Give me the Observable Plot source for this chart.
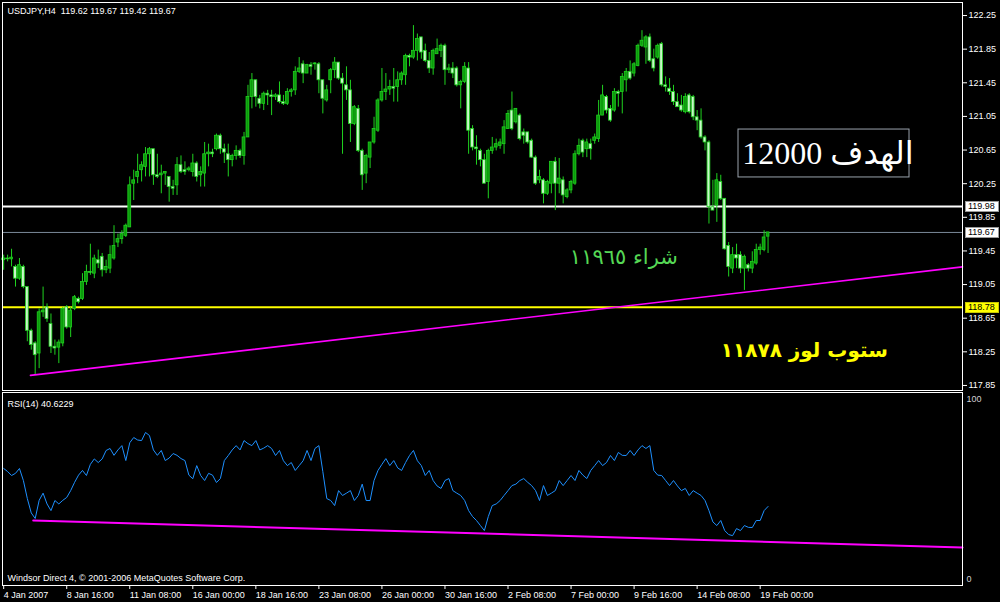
<!DOCTYPE html>
<html><head><meta charset="utf-8">
<script src="https://cdn.jsdelivr.net/npm/d3@7"></script>
<script src="https://cdn.jsdelivr.net/npm/@observablehq/plot@0.6"></script>
<style>
html,body{margin:0;padding:0;background:#000;}
#chart{width:1000px;height:602px;background:#000;overflow:hidden;}
#chart svg{display:block;}
</style></head><body><div id="chart"></div>
<script>
// ---- data (USDJPY H4, bar index 0 = 4 Jan 2007 00:00) ----
const opens = [
119.34,119.36,119.35,119.26,119.12,119.26,119.02,118.50,118.35,118.23,
118.72,118.78,118.58,118.31,118.30,118.35,118.78,118.54,118.76,118.88,
118.88,119.08,119.20,119.18,119.34,119.38,119.22,119.24,119.36,119.55,
119.59,119.63,119.73,120.25,120.33,120.41,120.45,120.60,120.66,120.35,
120.35,120.37,120.33,120.21,120.23,120.47,120.41,120.41,120.39,120.49,
120.35,120.37,120.60,120.62,120.66,120.82,120.66,120.60,120.53,120.58,
120.64,120.58,120.80,121.28,121.48,121.26,121.20,121.32,121.30,121.28,
121.30,121.22,121.20,121.34,121.36,121.58,121.67,121.56,121.66,121.67,
121.67,121.48,121.24,121.48,121.60,121.69,121.50,121.42,121.36,120.96,
121.14,120.64,120.37,120.56,120.74,120.88,121.24,121.34,121.37,121.40,
121.40,121.48,121.54,121.77,121.75,121.83,121.99,121.83,121.71,121.62,
121.79,121.83,121.89,121.60,121.62,121.62,121.42,121.46,121.62,120.90,
120.68,120.64,120.53,120.27,120.64,120.68,120.70,120.72,120.90,121.12,
120.98,121.06,120.86,120.86,120.76,120.56,120.29,120.29,120.13,120.25,
120.51,120.25,120.29,120.09,120.17,120.25,120.60,120.76,120.66,120.72,
120.76,120.78,121.06,121.28,121.14,121.12,121.34,121.34,121.48,121.58,
121.56,121.65,121.89,121.87,121.99,121.73,121.75,121.91,121.42,121.38,
121.34,121.22,121.18,121.10,121.30,121.28,121.04,121.00,120.80,120.74,
119.97,119.99,120.27,120.07,119.51,119.24,119.40,119.40,119.24,119.28,
119.24,119.30,119.46,119.46,119.62];
const highs = [
119.40,119.40,119.47,119.28,119.36,119.28,119.02,118.52,118.37,118.76,
119.02,118.82,118.70,118.39,118.39,118.78,118.80,118.78,118.92,118.90,
119.18,119.28,119.53,119.40,119.46,119.42,119.34,119.51,119.75,119.65,
119.69,119.77,120.33,120.41,120.60,120.51,120.68,120.68,120.66,120.60,
120.47,120.39,120.33,120.29,120.56,120.58,120.51,120.45,120.60,120.51,
120.45,120.74,120.72,120.66,120.84,120.84,120.72,120.72,120.60,120.70,
120.66,120.86,121.42,121.56,121.48,121.30,121.34,121.36,121.36,121.32,
121.46,121.30,121.38,121.38,121.64,121.75,121.71,121.67,121.69,121.69,
121.69,121.48,121.42,121.62,121.75,121.69,121.56,121.64,121.48,121.18,
121.18,120.66,120.60,120.74,121.04,121.26,121.62,121.56,121.48,121.62,
121.58,121.58,121.79,121.79,122.13,122.03,121.99,121.91,121.81,121.85,
121.97,121.91,121.91,121.67,121.69,121.64,121.48,121.69,121.69,120.94,
120.82,120.66,120.60,120.66,120.80,120.78,120.78,121.00,121.12,121.34,
121.14,121.08,120.90,120.86,120.78,120.58,120.41,120.31,120.29,120.51,
120.56,120.55,120.33,120.19,120.29,120.64,120.78,120.78,120.78,120.78,
120.84,121.24,121.42,121.30,121.18,121.38,121.36,121.56,121.62,121.71,
121.69,121.91,122.07,122.01,122.03,121.85,121.91,121.93,121.52,121.50,
121.42,121.32,121.30,121.32,121.32,121.30,121.12,121.14,120.82,120.76,
120.29,120.37,120.35,120.07,119.55,119.49,119.53,119.44,119.40,119.30,
119.44,119.53,119.53,119.69,119.67];
const lows = [
119.22,119.32,119.26,119.02,119.10,119.00,118.37,118.27,117.98,118.05,
118.66,118.60,118.23,118.21,118.11,118.31,118.52,118.42,118.74,118.82,
118.86,119.04,119.16,119.12,119.24,119.14,119.18,119.18,119.34,119.49,
119.53,119.61,119.73,120.05,120.25,120.27,120.33,120.33,120.23,120.31,
120.13,120.23,120.03,120.11,120.11,120.37,120.35,120.39,120.33,120.27,
120.21,120.21,120.45,120.56,120.64,120.60,120.49,120.33,120.45,120.53,
120.55,120.47,120.80,121.14,121.16,121.14,121.12,121.18,121.06,121.24,
121.20,121.18,121.18,121.28,121.30,121.56,121.44,121.56,121.54,121.60,
121.32,121.08,121.22,121.32,121.50,121.48,120.60,121.24,120.74,120.94,
120.62,120.17,120.25,120.43,120.72,120.86,121.22,121.24,121.30,121.22,
121.22,121.42,121.42,121.64,121.73,121.71,121.73,121.69,121.56,121.54,
121.79,121.75,121.42,121.56,121.50,121.40,121.14,121.44,120.60,120.64,
120.47,120.45,120.25,120.07,120.60,120.64,120.66,120.60,120.90,120.88,
120.96,120.76,120.72,120.72,120.55,120.23,120.25,120.01,120.11,120.13,
119.93,120.13,120.01,120.07,120.13,120.23,120.58,120.56,120.56,120.53,
120.72,120.74,121.06,121.08,120.98,121.10,121.16,121.08,121.34,121.48,
121.52,121.64,121.87,121.67,121.69,121.58,121.73,121.40,121.34,121.30,
121.18,121.16,121.10,121.08,121.08,121.00,120.88,120.78,120.64,119.77,
119.93,119.79,120.05,119.46,119.14,119.18,119.24,119.18,118.98,119.20,
119.18,119.28,119.40,119.44,119.42];
const closes = [
119.36,119.35,119.37,119.12,119.28,119.02,118.50,118.33,118.21,118.72,
118.74,118.64,118.31,118.29,118.36,118.76,118.54,118.74,118.90,118.84,
119.08,119.20,119.19,119.36,119.30,119.22,119.26,119.40,119.51,119.59,
119.65,119.75,120.23,120.29,120.39,120.47,120.60,120.66,120.35,120.33,
120.37,120.39,120.21,120.19,120.47,120.39,120.39,120.43,120.49,120.33,
120.39,120.60,120.62,120.60,120.82,120.66,120.62,120.53,120.58,120.64,
120.58,120.80,121.28,121.48,121.28,121.20,121.32,121.30,121.28,121.30,
121.22,121.20,121.34,121.36,121.58,121.62,121.56,121.66,121.64,121.68,
121.48,121.26,121.36,121.60,121.69,121.50,121.44,121.36,120.96,121.16,
120.64,120.35,120.58,120.74,120.90,121.24,121.34,121.37,121.40,121.38,
121.48,121.56,121.77,121.75,121.83,121.97,121.81,121.71,121.62,121.83,
121.85,121.89,121.60,121.62,121.56,121.42,121.46,121.64,120.88,120.68,
120.66,120.53,120.25,120.64,120.68,120.72,120.74,120.92,121.08,120.90,
121.14,120.78,120.82,120.74,120.56,120.25,120.33,120.13,120.27,120.51,
120.25,120.31,120.11,120.17,120.27,120.60,120.70,120.62,120.74,120.66,
120.80,121.06,121.30,121.12,121.00,121.34,121.32,121.52,121.58,121.50,
121.67,121.89,121.95,121.99,121.71,121.62,121.89,121.42,121.40,121.34,
121.22,121.16,121.12,121.28,121.10,121.04,121.00,120.80,120.74,119.97,
119.93,120.29,120.07,119.47,119.26,119.40,119.36,119.24,119.38,119.24,
119.32,119.46,119.49,119.61,119.67];
const rsiValues = [
61.7,60,57.8,59,61.7,55,45,37,33.9,44,
48,42,38.3,43.9,42,44,45.6,49.4,54,58,
60.6,57.8,64,67,65,67,71.7,72.8,69,72,
74.4,66.1,76,78.9,77.5,77.2,81.7,80,72,69,
71.7,66.1,67.5,70,69,67.2,66.1,58,56,63.3,
57.8,55,59,58,53.9,56.1,66.1,68.9,72,74.4,
72,77.2,75.5,74.4,77.2,72,73,74.4,72.8,68.9,
71.7,66,63.3,65,60.6,63.3,66,71.7,66.1,72.8,
74.4,60,45,43.9,41.1,49.4,46.7,48,49.4,43.9,
46.7,53,43.9,43.9,55,60.6,64,67.2,63.3,66.1,
62,60.6,65,68.9,71.7,66,63.3,57.8,60.6,55,
52,50.6,55,56.1,49.4,48,46.7,43.9,38.3,35,
32.8,30,27.2,35,41.1,42,43.9,46.7,49.4,52.2,
53,55,56.1,54,52.2,49.4,43.9,52.2,46.7,48,
49.4,55,52.2,55,57.8,55,60.6,58,56.1,60.6,
63.3,66.1,63.3,65,68.9,66.1,70.6,69,68.9,71.7,
68.9,72,74.4,72.8,74.4,60.6,58,57.8,55,52.2,
55,52,49.4,50.6,46.7,49.4,48,46.7,43.9,38.3,
32,30,32.8,27.2,25,24.4,28.3,27.2,30,29,
28.9,32.8,32.8,38.3,40.6];
const tickBars = [0,16,32,48,64,80,96,112,128,144,160,176,192];
const tickLabels = ["4 Jan 2007","8 Jan 16:00","11 Jan 08:00","16 Jan 00:00","18 Jan 16:00","23 Jan 08:00","26 Jan 00:00","30 Jan 16:00","2 Feb 08:00","7 Feb 00:00","9 Feb 16:00","14 Feb 08:00","19 Feb 00:00"];
const priceTicks = [117.85,118.25,118.65,119.05,119.45,119.85,120.25,120.65,121.05,121.45,121.85,122.25];
const rsiTicks = [0,100];
const levelResistance = 119.98;
const levelBid = 119.67;
const levelStop = 118.78;
const priceTrend = [{bar: 6.8, v: 117.97}, {bar: 243.35, v: 119.26}];
const rsiTrend = [{bar: 7.5, v: 32.8}, {bar: 243.35, v: 17.8}];
const headerText = "USDJPY,H4\u00a0\u00a0119.62 119.67 119.42 119.67";
const rsiText = "RSI(14) 40.6229";
const copyrightText = "Windsor Direct 4, \u00a9 2001-2006 MetaQuotes Software Corp.";
const targetNote = [{text: "الهدف 12000", bar: 209.2, price: 120.61}];
const targetBox = [{bar1: 186.5, bar2: 229.9, p1: 120.324, p2: 120.894}];
const buyNote = [{text: "شراء ١١٩٦٥", bar: 157.4, price: 119.37}];
const stopNote = [{text: "ستوب لوز ١١٨٧٨", bar: 203.2, price: 118.27}];
const tags = [
  {v: levelResistance, fill: "#ffffff", stroke: "#9a9a9a"},
  {v: levelBid, fill: "#ffffff", stroke: "#9a9a9a"},
  {v: levelStop, fill: "#ffff00", stroke: "#c8c800"}
];

// ---- drawing ----
const bars = opens.map((o, i) => ({i, o, h: highs[i], l: lows[i], c: closes[i]}));
const xDomain = [-0.3, 243.35];
const font = "Tahoma, 'Liberation Sans', Arial, sans-serif";
const wick = "#1fd21f";
const bullFill = "#0c9a0c";
const bearFill = "#c9f7c9";

const price = Plot.plot({
  width: 1000, height: 391,
  marginTop: 2, marginBottom: 1, marginLeft: 2, marginRight: 38,
  style: {background: "#000", color: "#fff", fontFamily: font, fontSize: "9px"},
  x: {domain: xDomain, axis: null},
  y: {domain: [117.79, 122.405], axis: null},
  marks: [
    Plot.ruleY([levelBid], {stroke: "#7b8a99", strokeWidth: 1}),
    Plot.ruleY([levelResistance], {stroke: "#ffffff", strokeWidth: 2}),
    Plot.ruleY([levelStop], {stroke: "#ffff00", strokeWidth: 2}),
    Plot.line(priceTrend, {x: "bar", y: "v", stroke: "#ff00ff", strokeWidth: 1.6}),
    Plot.ruleX(bars, {x: "i", y1: "l", y2: "h", stroke: wick, strokeWidth: 1}),
    Plot.rect(bars, {x1: d => d.i - 0.36, x2: d => d.i + 0.36, y1: "o", y2: "c",
      fill: d => d.c >= d.o ? bullFill : bearFill, stroke: wick, strokeWidth: 0.8}),
    Plot.rect(targetBox, {x1: "bar1", x2: "bar2", y1: "p1", y2: "p2", fill: "none", stroke: "#9aa3ad", strokeWidth: 1}),
    Plot.text(targetNote, {x: "bar", y: "price", text: "text", fill: "#ffffff", fontSize: 32,
      fontFamily: "'Liberation Serif', 'DejaVu Sans', serif"}),
    Plot.text(buyNote, {x: "bar", y: "price", text: "text", fill: "#55d855", fontSize: 21,
      fontFamily: "'DejaVu Sans', sans-serif"}),
    Plot.text(stopNote, {x: "bar", y: "price", text: "text", fill: "#ffff00", fontSize: 20, fontWeight: "bold",
      fontFamily: "'DejaVu Sans', sans-serif"}),
    Plot.axisY({anchor: "right", ticks: priceTicks, tickFormat: d3.format(".2f"), tickSize: 4, tickPadding: 2,
      label: null, fontSize: 9}),
    Plot.text([headerText], {frameAnchor: "top-left", lineAnchor: "top", textAnchor: "start", dx: 5, dy: 5,
      fill: "#fff", fontSize: 9}),
    Plot.frame({stroke: "#fff"})
  ]
});

const rsi = Plot.plot({
  width: 1000, height: 211,
  marginTop: 1, marginBottom: 17, marginLeft: 2, marginRight: 38,
  style: {background: "#000", color: "#fff", fontFamily: font, fontSize: "9px"},
  x: {domain: xDomain, axis: null},
  y: {domain: [-3.3, 103.9], axis: null},
  marks: [
    Plot.line(rsiTrend, {x: "bar", y: "v", stroke: "#ff00ff", strokeWidth: 2}),
    Plot.line(rsiValues, {x: (d, i) => i, y: d => d, stroke: "#1e90ff", strokeWidth: 1}),
    Plot.axisY({anchor: "right", ticks: rsiTicks, tickSize: 0, tickPadding: 4, label: null, fill: "#d0d0d0", fontSize: 9}),
    Plot.axisX({anchor: "bottom", ticks: tickBars, tickFormat: d => tickLabels[tickBars.indexOf(d)],
      tickSize: 4, tickPadding: 2, textAnchor: "start", label: null, fontSize: 9}),
    Plot.text([rsiText], {frameAnchor: "top-left", lineAnchor: "top", textAnchor: "start", dx: 5, dy: 8,
      fill: "#fff", fontSize: 9}),
    Plot.text([copyrightText], {frameAnchor: "top-left", lineAnchor: "top", textAnchor: "start", dx: 5, dy: 182,
      fill: "#fff", fontSize: 9}),
    Plot.frame({stroke: "#fff"})
  ]
});

// price tags on the right scale, placed with the plot's own y scale
const yScale = price.scale("y");
const svg = d3.select(price);
const fmt = d3.format(".2f");
for (const t of tags) {
  const y = Math.round(yScale.apply(t.v));
  svg.append("rect").attr("x", 965.5).attr("y", y - 4.5).attr("width", 33).attr("height", 10)
    .attr("fill", t.fill).attr("stroke", t.stroke).attr("stroke-width", 1);
  svg.append("text").attr("x", 968).attr("y", y + 3.3).attr("fill", "#000")
    .attr("text-anchor", "start")
    .attr("font-family", font).attr("font-size", 9).text(fmt(t.v));
}

const root = document.getElementById("chart");
root.appendChild(price);
root.appendChild(rsi);
</script>
</body></html>
